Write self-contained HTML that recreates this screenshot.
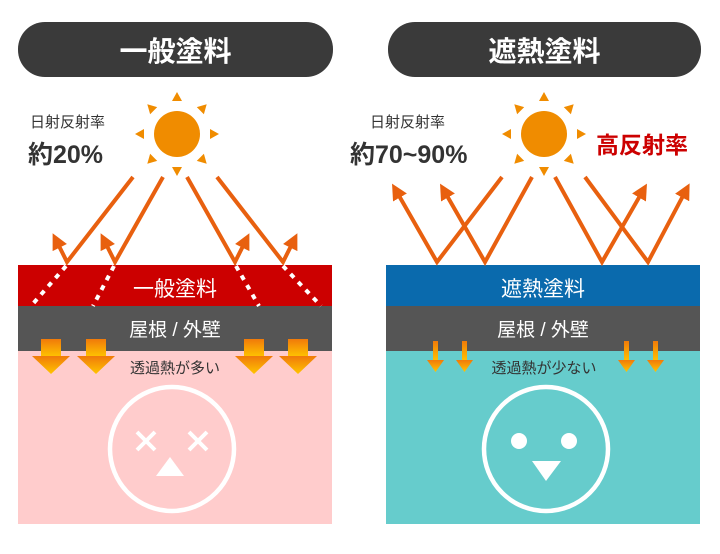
<!DOCTYPE html>
<html><head><meta charset="utf-8"><style>
html,body{margin:0;padding:0;background:#fff;}
svg text{font-family:"Liberation Sans","Noto Sans CJK JP",sans-serif;}
</style></head><body>
<svg width="720" height="549" viewBox="0 0 720 549" xmlns="http://www.w3.org/2000/svg">
<defs>
<linearGradient id="g" x1="0" y1="0" x2="0" y2="1"><stop offset="0" stop-color="#f07a0a"/><stop offset="1" stop-color="#ffc400"/></linearGradient>
<marker id="ah" markerWidth="16" markerHeight="16" refX="4" refY="8" orient="auto" markerUnits="userSpaceOnUse"><path d="M0,0 L16,8 L0,16 z" fill="#e8600f"/></marker>
</defs>
<!-- headers -->
<rect x="18" y="22" width="315" height="55" rx="27" fill="#3a3a3a"/>
<text x="175.5" y="61" font-size="28" font-weight="bold" fill="#fff" text-anchor="middle">一般塗料</text>
<rect x="388" y="22" width="313" height="55" rx="27" fill="#3a3a3a"/>
<text x="544.5" y="61" font-size="28" font-weight="bold" fill="#fff" text-anchor="middle">遮熱塗料</text>
<!-- labels -->
<text x="30" y="127" font-size="15" fill="#333">日射反射率</text>
<text x="28" y="163" font-size="25" font-weight="bold" fill="#333">約20%</text>
<text x="370" y="127" font-size="15" fill="#333">日射反射率</text>
<text x="350" y="163" font-size="25" font-weight="bold" fill="#333">約70~90%</text>
<text x="596" y="153" font-size="23" font-weight="bold" fill="#cc0000">高反射率</text>
<!-- suns -->
<g id="sun" fill="#f08c00">
<circle cx="177" cy="134" r="23"/>
<g transform="translate(177,134)">
<path d="M-5,-33 L5,-33 L0,-42z"/><path d="M-5,33 L5,33 L0,42z"/><path d="M33,-5 L33,5 L42,0z"/><path d="M-33,-5 L-33,5 L-42,0z"/>
<g transform="rotate(45)"><path d="M-5,-33 L5,-33 L0,-42z"/><path d="M-5,33 L5,33 L0,42z"/><path d="M33,-5 L33,5 L42,0z"/><path d="M-33,-5 L-33,5 L-42,0z"/></g>
</g></g>
<use href="#sun" transform="translate(367,0)"/>
<!-- left panel -->
<rect x="18" y="351" width="314" height="173" fill="#ffcccc"/>
<rect x="18" y="265" width="314" height="41" fill="#cc0000"/>
<rect x="18" y="306" width="314" height="45" fill="#555"/>
<text x="175" y="296" font-size="21" fill="#fff" text-anchor="middle">一般塗料</text>
<text x="175" y="336" font-size="19" fill="#fff" text-anchor="middle">屋根 / 外壁</text>
<g stroke="#fff" stroke-width="4" stroke-dasharray="5,6">
<line x1="66" y1="266" x2="31" y2="306"/><line x1="114" y1="266" x2="93" y2="306"/>
<line x1="236" y1="266" x2="259" y2="306"/><line x1="283" y1="266" x2="321" y2="306"/>
</g>
<g stroke="#e8600f" stroke-width="4" fill="none" stroke-linejoin="miter">
<polyline points="133,177 67,262 58,244" marker-end="url(#ah)"/>
<polyline points="163,177 115,262 106,244" marker-end="url(#ah)"/>
<polyline points="187,177 235,262 244,244" marker-end="url(#ah)"/>
<polyline points="217,177 283,262 292,244" marker-end="url(#ah)"/>
</g>
<g fill="url(#g)">
<g id="ba"><rect x="41" y="339" width="20" height="18"/><path d="M32,356 L70,356 L51,374z"/></g>
<use href="#ba" transform="translate(45,0)"/>
<use href="#ba" transform="translate(203,0)"/>
<use href="#ba" transform="translate(247,0)"/>
</g>
<text x="175" y="373" font-size="15" fill="#333" text-anchor="middle">透過熱が多い</text>
<circle cx="172" cy="449" r="62" fill="none" stroke="#fff" stroke-width="4.5"/>
<g stroke="#fff" stroke-width="4">
<line x1="137" y1="432" x2="155" y2="450"/><line x1="155" y1="432" x2="137" y2="450"/>
<line x1="189" y1="432" x2="207" y2="450"/><line x1="207" y1="432" x2="189" y2="450"/>
</g>
<path d="M170,457 L184,476 L156,476z" fill="#fff"/>
<!-- right panel -->
<rect x="386" y="351" width="314" height="173" fill="#66cccc"/>
<rect x="386" y="265" width="314" height="41" fill="#0a6aad"/>
<rect x="386" y="306" width="314" height="45" fill="#555"/>
<text x="543" y="296" font-size="21" fill="#fff" text-anchor="middle">遮熱塗料</text>
<text x="543" y="336" font-size="19" fill="#fff" text-anchor="middle">屋根 / 外壁</text>
<g stroke="#e8600f" stroke-width="4" fill="none">
<polyline points="502,177 437,262 398,194" marker-end="url(#ah)"/>
<polyline points="532,177 485,262 446,194" marker-end="url(#ah)"/>
<polyline points="555,177 602,262 641,194" marker-end="url(#ah)"/>
<polyline points="585,177 648,262 684,194" marker-end="url(#ah)"/>
</g>
<g fill="url(#g)">
<g id="sa"><rect x="433" y="341" width="5" height="20"/><path d="M427,360 L444,360 L435.5,372z"/></g>
<use href="#sa" transform="translate(29,0)"/>
<use href="#sa" transform="translate(191,0)"/>
<use href="#sa" transform="translate(220,0)"/>
</g>
<text x="544" y="373" font-size="15" fill="#333" text-anchor="middle">透過熱が少ない</text>
<circle cx="546" cy="449" r="62" fill="none" stroke="#fff" stroke-width="4.5"/>
<circle cx="519" cy="441" r="8" fill="#fff"/><circle cx="569" cy="441" r="8" fill="#fff"/>
<path d="M532,461 L561,461 L546,481z" fill="#fff"/>
</svg>
</body></html>
